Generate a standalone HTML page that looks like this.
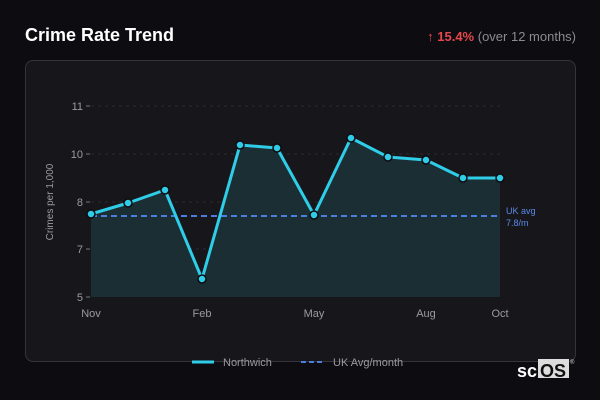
<!DOCTYPE html>
<html><head><style>
body{margin:0;width:600px;height:400px;background:#0d0d11;font-family:"Liberation Sans",sans-serif;overflow:hidden;position:relative}
.t{position:absolute;left:25px;top:25px;color:#fff;font-weight:bold;font-size:18px}
.r{position:absolute;right:24px;top:29px;font-size:13px;color:#8a8a90}
.r b{color:#e5484d}
.p{position:absolute;left:25px;top:60px;width:549px;height:300px;border:1px solid #34343a;border-radius:8px;background:#17171b}
</style></head><body>
<div class="t">Crime Rate Trend</div>
<div class="r"><b>↑ 15.4%</b> (over 12 months)</div>
<div class="p"></div>
<svg width="600" height="400" style="position:absolute;left:0;top:0" font-family="Liberation Sans,sans-serif">
<g stroke="#2a2a30" stroke-dasharray="3,4">
<line x1="91" x2="500" y1="106" y2="106"/><line x1="91" x2="500" y1="154" y2="154"/><line x1="91" x2="500" y1="202" y2="202"/><line x1="91" x2="500" y1="249" y2="249"/>
</g>
<g fill="#9a9aa0" font-size="11" text-anchor="end">
<text x="83" y="110">11</text><text x="83" y="158">10</text><text x="83" y="206">8</text><text x="83" y="253">7</text><text x="83" y="301">5</text>
</g>
<g stroke="#777" ><line x1="86" x2="90" y1="106" y2="106"/><line x1="86" x2="90" y1="154" y2="154"/><line x1="86" x2="90" y1="202" y2="202"/><line x1="86" x2="90" y1="249" y2="249"/><line x1="86" x2="90" y1="297" y2="297"/></g>
<text transform="translate(53,202) rotate(-90)" fill="#9a9aa0" font-size="10" text-anchor="middle">Crimes per 1,000</text>
<g fill="#9a9aa0" font-size="11" text-anchor="middle">
<text x="91" y="317">Nov</text><text x="202" y="317">Feb</text><text x="314" y="317">May</text><text x="426" y="317">Aug</text><text x="500" y="317">Oct</text>
</g>
<path d="M91,214 128,203 165,190 202,279 240,145 277,148 314,215 351,138 388,157 426,160 463,178 500,178 500,297 91,297Z" fill="#1b2e34"/>
<line x1="91" x2="500" y1="216" y2="216" stroke="#4a7fe0" stroke-width="2" stroke-dasharray="6,4"/>
<text x="506" y="214" fill="#5a8ae8" font-size="9">UK avg</text><text x="506" y="226" fill="#5a8ae8" font-size="9">7.8/m</text>
<polyline points="91,214 128,203 165,190 202,279 240,145 277,148 314,215 351,138 388,157 426,160 463,178 500,178" fill="none" stroke="#2fcde8" stroke-width="3" stroke-linejoin="round"/>
<g fill="#2fcde8" stroke="#0d0d11" stroke-width="1.5">
<circle cx="91" cy="214" r="4"/><circle cx="128" cy="203" r="4"/><circle cx="165" cy="190" r="4"/><circle cx="202" cy="279" r="4"/><circle cx="240" cy="145" r="4"/><circle cx="277" cy="148" r="4"/><circle cx="314" cy="215" r="4"/><circle cx="351" cy="138" r="4"/><circle cx="388" cy="157" r="4"/><circle cx="426" cy="160" r="4"/><circle cx="463" cy="178" r="4"/><circle cx="500" cy="178" r="4"/>
</g>
<line x1="192" x2="214" y1="362" y2="362" stroke="#2fcde8" stroke-width="3"/>
<text x="223" y="366" fill="#9a9aa0" font-size="11">Northwich</text>
<line x1="301" x2="325" y1="362" y2="362" stroke="#4a7fe0" stroke-width="2" stroke-dasharray="5,3"/>
<text x="333" y="366" fill="#9a9aa0" font-size="11">UK Avg/month</text>
<text x="517" y="377" fill="#fff" font-size="18" font-weight="bold">sc</text>
<rect x="538" y="359" width="31" height="19" fill="#ddd"/>
<text x="540" y="377" fill="#111" font-size="18" font-weight="bold">OS</text>
<text x="570" y="364" fill="#ccc" font-size="6">®</text>
</svg>
</body></html>
